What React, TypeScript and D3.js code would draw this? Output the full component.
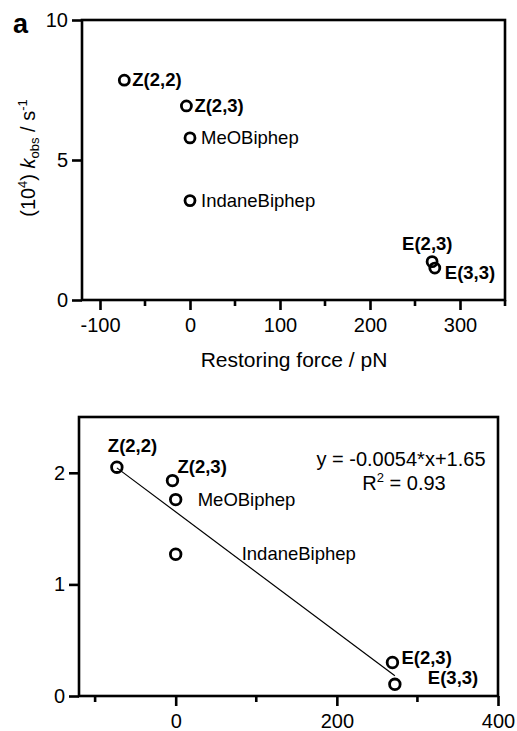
import React, { useEffect, useRef } from 'react';
import * as d3 from 'd3';

// compounds and their values
const names = ['Z(2,2)', 'Z(2,3)', 'MeOBiphep', 'IndaneBiphep', 'E(2,3)', 'E(3,3)'];
const force = [-73, -4, 0, 0, 269, 272];
const kobs = [7.85, 6.93, 5.79, 3.55, 1.37, 1.14];
const logK = [2.05, 1.93, 1.76, 1.27, 0.30, 0.105];
const boldNames = ['Z(2,2)', 'Z(2,3)', 'E(2,3)', 'E(3,3)'];

const topXTicks = [-100, 0, 100, 200, 300];
const topXMinor = [-50, 50, 150, 250, 350];
const topYTicks = [0, 5, 10];
const botXTicks = [0, 200, 400];
const botXMinor = [-100, 100, 300];
const botYTicks = [0, 1, 2];

// fit: y = -0.0054*x + 1.65
const slope = -0.0054;
const intercept = 1.65;
const fitRange = [-73, 272];

// label offsets for each panel (dx, dy relative to point)
const topLabelOff: [number, number][] = [[8, 6], [8, 6], [11, 6], [11, 6], [-30, -12], [10, 11]];
const botLabelOff: [number, number][] = [[-9, -15], [5, -8], [22, 6], [66, 6], [9, 1], [33, 0]];

const FONT = '"Liberation Sans", Arial, Helvetica, sans-serif';

const App = () => {
  const ref = useRef<SVGSVGElement>(null);

  useEffect(() => {
    const svg = d3.select(ref.current);
    svg.selectAll('*').remove();
    svg.style('font-family', FONT);

    const drawPanel = (opts: {
      left: number; right: number; top: number; bottom: number;
      xDomain: [number, number]; yDomain: [number, number];
      xTicks: number[]; xMinor: number[]; yTicks: number[];
    }) => {
      const x = d3.scaleLinear().domain(opts.xDomain).range([opts.left, opts.right]);
      const y = d3.scaleLinear().domain(opts.yDomain).range([opts.bottom, opts.top]);
      const g = svg.append('g');

      // frame
      g.append('rect')
        .attr('x', opts.left).attr('y', opts.top)
        .attr('width', opts.right - opts.left).attr('height', opts.bottom - opts.top)
        .attr('fill', 'none').attr('stroke', '#000').attr('stroke-width', 2.6);

      // x ticks
      const xa = g.append('g').attr('transform', `translate(0,${opts.bottom})`)
        .call(d3.axisBottom(x).tickValues(opts.xTicks).tickSize(10).tickPadding(8).tickFormat(d => String(d)));
      xa.select('.domain').remove();
      xa.selectAll('line').attr('stroke-width', 2.6);
      xa.selectAll('text').attr('font-size', 20).attr('font-family', FONT).attr('fill', '#000');
      g.selectAll('.minx').data(opts.xMinor).enter().append('line')
        .attr('x1', d => x(d)).attr('x2', d => x(d))
        .attr('y1', opts.bottom).attr('y2', opts.bottom + 6)
        .attr('stroke', '#000').attr('stroke-width', 2.6);

      // y ticks
      const ya = g.append('g').attr('transform', `translate(${opts.left},0)`)
        .call(d3.axisLeft(y).tickValues(opts.yTicks).tickSize(10).tickPadding(4).tickFormat(d => String(d)));
      ya.select('.domain').remove();
      ya.selectAll('line').attr('stroke-width', 2.6);
      ya.selectAll('text').attr('font-size', 20).attr('font-family', FONT).attr('fill', '#000');

      return { x, y, g };
    };

    // ---- top panel ----
    const top = drawPanel({
      left: 82, right: 505, top: 20, bottom: 300,
      xDomain: [-120, 350], yDomain: [0, 10],
      xTicks: topXTicks, xMinor: topXMinor, yTicks: topYTicks,
    });

    top.g.selectAll('circle').data(names).enter().append('circle')
      .attr('cx', (_, i) => top.x(force[i])).attr('cy', (_, i) => top.y(kobs[i]))
      .attr('r', 5).attr('fill', 'none').attr('stroke', '#000').attr('stroke-width', 2.8);
    top.g.selectAll('.lbl').data(names).enter().append('text')
      .attr('x', (_, i) => top.x(force[i]) + topLabelOff[i][0])
      .attr('y', (_, i) => top.y(kobs[i]) + topLabelOff[i][1])
      .attr('font-size', 18.5)
      .attr('font-weight', d => boldNames.includes(d) ? 'bold' : 'normal')
      .text(d => d);

    svg.append('text').attr('x', 13).attr('y', 33)
      .attr('font-size', 27).attr('font-weight', 'bold').text('a');

    // y axis title
    const yt = svg.append('text')
      .attr('transform', 'translate(35,158) rotate(-90)')
      .attr('text-anchor', 'middle').attr('font-size', 20);
    yt.append('tspan').text('(10');
    yt.append('tspan').attr('font-size', 13).attr('dy', -8).text('4');
    yt.append('tspan').attr('dy', 8).text(') ');
    yt.append('tspan').attr('font-style', 'italic').text('k');
    yt.append('tspan').attr('font-size', 13).attr('dy', 4).text('obs');
    yt.append('tspan').attr('dy', -4).text(' / s');
    yt.append('tspan').attr('font-size', 13).attr('dy', -8).text('-1');

    svg.append('text').attr('x', 294).attr('y', 367)
      .attr('text-anchor', 'middle').attr('font-size', 21)
      .text('Restoring force / pN');

    // ---- bottom panel ----
    const bot = drawPanel({
      left: 79, right: 498, top: 417, bottom: 696,
      xDomain: [-120, 400], yDomain: [0, 2.5],
      xTicks: botXTicks, xMinor: botXMinor, yTicks: botYTicks,
    });

    const line = d3.line<number>().x(d => bot.x(d)).y(d => bot.y(slope * d + intercept));
    bot.g.append('path').datum(fitRange).attr('d', line)
      .attr('fill', 'none').attr('stroke', '#000').attr('stroke-width', 1.2);

    bot.g.selectAll('circle').data(names).enter().append('circle')
      .attr('cx', (_, i) => bot.x(force[i])).attr('cy', (_, i) => bot.y(logK[i]))
      .attr('r', 5.3).attr('fill', 'none').attr('stroke', '#000').attr('stroke-width', 2.8);
    bot.g.selectAll('.lbl').data(names).enter().append('text')
      .attr('x', (_, i) => bot.x(force[i]) + botLabelOff[i][0])
      .attr('y', (_, i) => bot.y(logK[i]) + botLabelOff[i][1])
      .attr('font-size', 18.5)
      .attr('font-weight', d => boldNames.includes(d) ? 'bold' : 'normal')
      .text(d => d);

    svg.append('text').attr('x', 401).attr('y', 466)
      .attr('text-anchor', 'middle').attr('font-size', 20)
      .text(`y = ${slope}*x+${intercept}`);
    const r2 = svg.append('text').attr('x', 404).attr('y', 490)
      .attr('text-anchor', 'middle').attr('font-size', 20);
    r2.append('tspan').text('R');
    r2.append('tspan').attr('font-size', 13).attr('dy', -8).text('2');
    r2.append('tspan').attr('dy', 8).text(' = 0.93');
  }, []);

  return (
    <svg ref={ref} width={517} height={731}
      style={{ position: 'absolute', left: 0, top: 0, background: '#fff' }} />
  );
};

export default App;
